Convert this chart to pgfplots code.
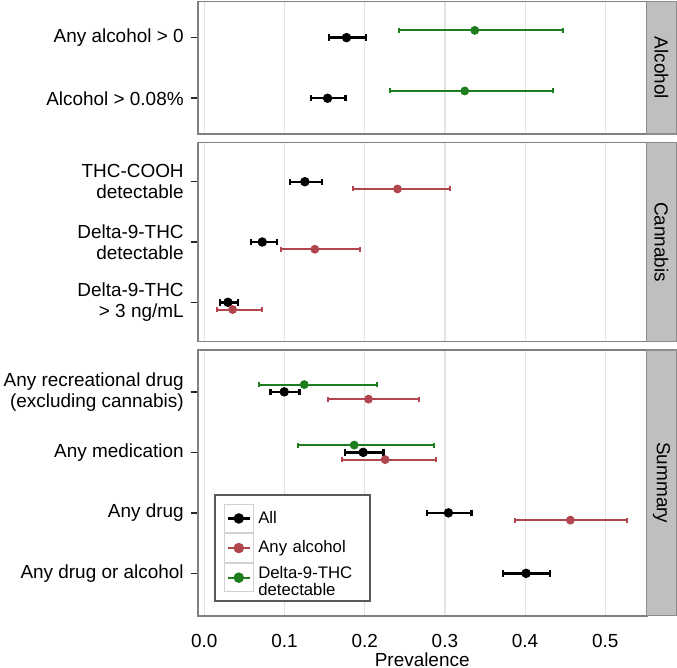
\documentclass[border=0pt]{standalone}
\usepackage{fontspec}
\setmainfont{Liberation Sans}
\usepackage{pgfplots}
\pgfplotsset{compat=1.18}

\definecolor{cgreen}{RGB}{30,125,30}
\definecolor{cred}{RGB}{178,70,78}
\definecolor{stripfill}{RGB}{191,191,191}
\definecolor{gridc}{RGB}{228,228,228}

\newcommand\legkey[2]{%
  \draw[black!18, fill=white, line width=0.6bp] (0bp,-7.1bp) rectangle (14.5bp,7.1bp);
  \draw[#1, line width=#2] (1.6bp,0bp) -- (12.9bp,0bp);
  \fill[#1] (7.25bp,0bp) circle (2.1bp);}

\pgfplotsset{
 panel/.style={
  scale only axis, width=224.5bp, clip=false,
  xmin=-0.0082, xmax=0.5516,
  xtick={0,0.1,0.2,0.3,0.4,0.5},
  xmajorgrids, major grid style={gridc, line width=0.6bp},
  xtick style={draw=none},
  ytick pos=left, tick align=outside, major tick length=3.5bp,
  ytick style={black!85, line width=0.75bp},
  axis line style={black!50, line width=0.8bp},
  yticklabel style={align=right, font=\fontsize{9.5}{10.4}\selectfont},
  xticklabel style={font=\fontsize{9.5}{10.4}\selectfont, yshift=-2.5bp,
    /pgf/number format/.cd, fixed, fixed zerofill, precision=1},
  /pgf/number format/assume math mode=true,
 },
 blk/.style={only marks, black, mark=*, mark size=2.15bp,
   error bars/x dir=both, error bars/x explicit, error bars/error mark=|,
   error bars/error bar style={line width=1.2bp, black},
   error bars/error mark options={mark size=1.6bp, line width=1.2bp, black}},
 grn/.style={only marks, cgreen, mark=*, mark size=2bp,
   error bars/x dir=both, error bars/x explicit, error bars/error mark=|,
   error bars/error bar style={line width=1bp, cgreen},
   error bars/error mark options={mark size=1.25bp, line width=1bp, cgreen}},
 rd/.style={only marks, cred, mark=*, mark size=2bp,
   error bars/x dir=both, error bars/x explicit, error bars/error mark=|,
   error bars/error bar style={line width=1bp, cred},
   error bars/error mark options={mark size=1.25bp, line width=1bp, cred}},
}

\newcommand\strip[1]{%
  \draw[fill=stripfill, draw=black!45, line width=0.6bp] (rel axis cs:1,0) rectangle ([xshift=14.75bp]rel axis cs:1,1);
  \node[rotate=-90, font=\fontsize{9.5}{10.4}\selectfont, inner sep=0pt] at ([xshift=7.4bp]rel axis cs:1,0.5) {#1};}

\begin{document}
\begin{tikzpicture}
\path[use as bounding box] (0,0) rectangle (338.5bp,334bp);

% Panel 1: Alcohol
\begin{axis}[panel, at={(98.85bp,267bp)}, anchor=south west, height=66.15bp,
  ymin=0.41, ymax=2.593, ytick={1,2},
  yticklabels={Alcohol > 0.08\%, Any alcohol > 0}, xticklabels={}]
\addplot[grn] coordinates {
  (0.3372,2.12) += (0.1096,0) -= (0.0943,0)
  (0.3248,1.12) += (0.1096,0) -= (0.0927,0)};
\addplot[blk] coordinates {
  (0.1773,2) += (0.0245,0) -= (0.0220,0)
  (0.1537,1) += (0.0224,0) -= (0.0204,0)};
\strip{Alcohol}
\end{axis}

% Panel 2: Cannabis
\begin{axis}[panel, at={(98.85bp,163.15bp)}, anchor=south west, height=99.5bp,
  ymin=0.347, ymax=3.647, ytick={1,2,3},
  yticklabels={{Delta-9-THC\\> 3 ng/mL}, {Delta-9-THC\\detectable}, {THC-COOH\\detectable}},
  xticklabels={}]
\addplot[blk] coordinates {
  (0.1254,3) += (0.0216,0) -= (0.0187,0)
  (0.0723,2) += (0.0182,0) -= (0.0142,0)
  (0.0295,1) += (0.0124,0) -= (0.0096,0)};
\addplot[rd] coordinates {
  (0.2409,2.88) += (0.0656,0) -= (0.0549,0)
  (0.1379,1.88) += (0.0565,0) -= (0.0420,0)
  (0.0353,0.88) += (0.0361,0) -= (0.0191,0)};
\strip{Cannabis}
\end{axis}

% Panel 3: Summary
\begin{axis}[panel, at={(98.85bp,26.15bp)}, anchor=south west, height=132.85bp,
  ymin=0.30, ymax=4.692, ytick={1,2,3,4},
  yticklabels={Any drug or alcohol, Any drug, Any medication, {Any recreational drug\\(excluding cannabis)}},
  xlabel={Prevalence},
  xlabel style={at={(axis description cs:0.5,0)}, anchor=base, yshift=-25.15bp, inner sep=0pt,
    font=\fontsize{9.5}{10.4}\selectfont},
  legend cell align=left,
  legend style={at={(0.037,0.457)}, anchor=north west, draw=black!65, line width=1bp,
    fill=white, inner sep=4.2bp, row sep=0pt,
    font=\fontsize{8.4}{8.4}\selectfont,
    cells={anchor=west, align=left},
    nodes={inner sep=0pt, text width=51.5bp, minimum height=14.2bp, align=left},
    /tikz/every odd column/.append style={column sep=2.2bp}}]
\addplot[forget plot, grn] coordinates {
  (0.1246,4.12) += (0.0905,0) -= (0.0561,0)
  (0.1869,3.12) += (0.1001,0) -= (0.0706,0)};
\addplot[forget plot, blk] coordinates {
  (0.0997,4) += (0.0191,0) -= (0.0171,0)
  (0.1981,3) += (0.0253,0) -= (0.0224,0)
  (0.3044,2) += (0.0287,0) -= (0.0270,0)
  (0.4012,1) += (0.0299,0) -= (0.0287,0)};
\addplot[forget plot, rd] coordinates {
  (0.2047,3.88) += (0.0627,0) -= (0.0510,0)
  (0.2255,2.88) += (0.0640,0) -= (0.0536,0)
  (0.4564,1.88) += (0.0702,0) -= (0.0689,0)};
\addlegendimage{legend image code/.code={\legkey{black}{1.2bp}}}
\addlegendentry{All}
\addlegendimage{legend image code/.code={\legkey{cred}{1bp}}}
\addlegendentry{Any alcohol}
\addlegendimage{legend image code/.code={\legkey{cgreen}{1bp}}}
\addlegendentry{\parbox[c][14.2bp][c]{51.5bp}{\raggedright Delta-9-THC\\detectable}}
\strip{Summary}
\end{axis}
\end{tikzpicture}
\end{document}
